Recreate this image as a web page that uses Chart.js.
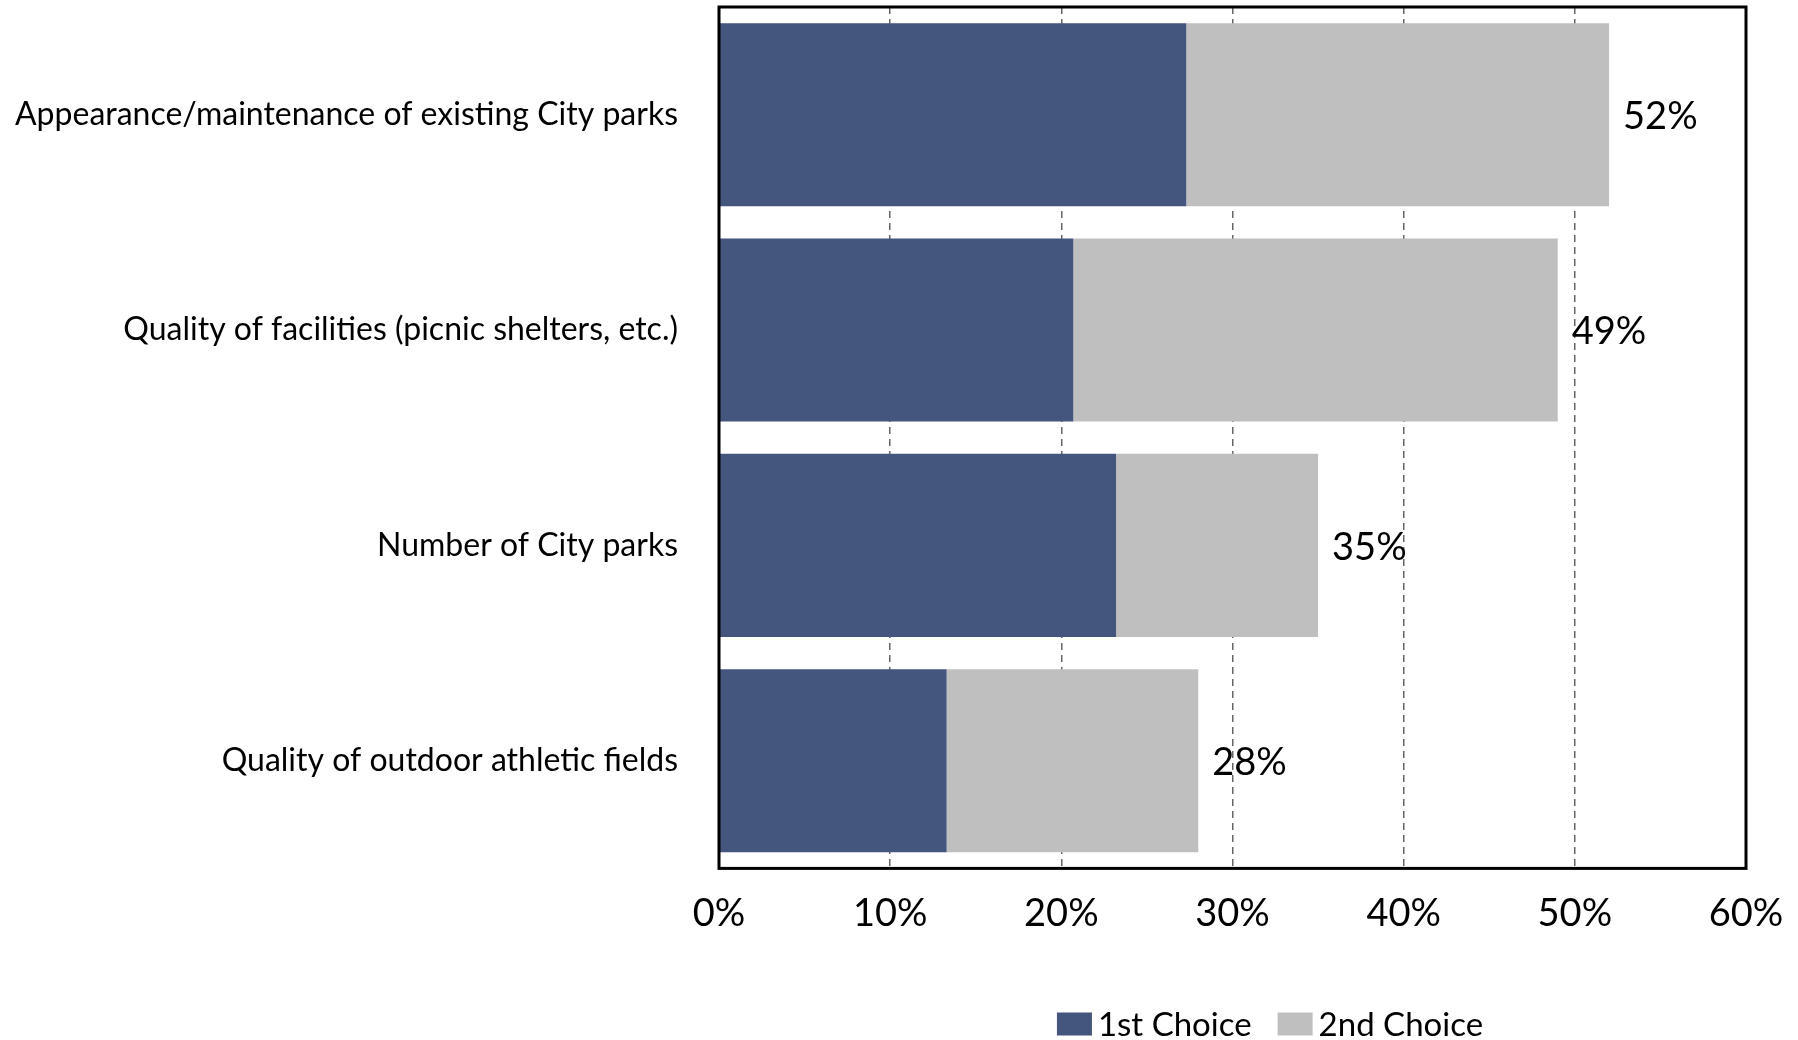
<!DOCTYPE html>
<html>
<head>
<meta charset="utf-8">
<title>Park priorities</title>
<script src="https://cdn.jsdelivr.net/npm/chart.js@4.4.1/dist/chart.umd.min.js"></script>
<style>
  html, body { margin: 0; padding: 0; background: #fff; }
  .chart-wrap { position: relative; width: 1798px; height: 1040px; }
</style>
</head>
<body>
<div class="chart-wrap"><canvas id="parksChart"></canvas></div>
<script>
// ---- Data ----
const categories = [
    'Appearance/maintenance of existing City parks',
    'Quality of facilities (picnic shelters, etc.)',
    'Number of City parks',
    'Quality of outdoor athletic fields'
];
const firstChoice = [27.3, 20.7, 23.2, 13.3];
const secondChoice = [24.7, 28.3, 11.8, 14.7];
const seriesNames = ['1st Choice', '2nd Choice'];
const xTicks = [0, 10, 20, 30, 40, 50, 60];

// ---- Styles ----
const FONT = 'Lato, "Noto Sans", sans-serif';
const BLUE = '#44557E';
const GREY = '#BFBFBF';

// ---- Black frame round the plot area ----
const plotFrame = {
    id: 'plotFrame',
    afterDatasetsDraw(chart) {
        const { ctx, chartArea: a } = chart;
        ctx.save();
        ctx.lineWidth = 3;
        ctx.strokeStyle = '#000';
        ctx.strokeRect(a.left, a.top, a.right - a.left, a.bottom - a.top);
        ctx.restore();
    }
};

// ---- Total (1st + 2nd) at the end of each bar ----
const totalLabels = {
    id: 'totalLabels',
    afterDatasetsDraw(chart, args, opts) {
        const { ctx } = chart;
        const meta = chart.getDatasetMeta(chart.data.datasets.length - 1);
        ctx.save();
        ctx.font = `${opts.size}px ${FONT}`;
        ctx.fillStyle = '#000';
        ctx.textAlign = 'left';
        ctx.textBaseline = 'middle';
        meta.data.forEach((bar, i) => {
            const total = firstChoice[i] + secondChoice[i];
            ctx.fillText(Math.round(total) + '%', bar.x + opts.offset, bar.y + 2);
        });
        ctx.restore();
    }
};

// ---- Legend under the chart ----
const choiceLegend = {
    id: 'choiceLegend',
    afterDraw(chart, args, opts) {
        const { ctx } = chart;
        ctx.save();
        ctx.font = `${opts.size}px ${FONT}`;
        ctx.textBaseline = 'middle';
        ctx.textAlign = 'left';
        const items = chart.data.datasets.map(ds => ({
            text: ds.label,
            color: ds.backgroundColor,
            w: ctx.measureText(ds.label).width
        }));
        const total = items.reduce((s, it) => s + opts.boxWidth + opts.boxGap + it.w, 0)
            + opts.itemGap * (items.length - 1);
        let x = opts.centerX - total / 2;
        items.forEach(it => {
            ctx.fillStyle = it.color;
            ctx.fillRect(x, opts.y - opts.boxHeight / 2, opts.boxWidth, opts.boxHeight);
            x += opts.boxWidth + opts.boxGap;
            ctx.fillStyle = '#000';
            ctx.fillText(it.text, x, opts.y + 1);
            x += it.w + opts.itemGap;
        });
        ctx.restore();
    }
};

new Chart(document.getElementById('parksChart'), {
    type: 'bar',
    data: {
        labels: categories,
        datasets: [
            { label: seriesNames[0], data: firstChoice, backgroundColor: BLUE },
            { label: seriesNames[1], data: secondChoice, backgroundColor: GREY }
        ]
    },
    options: {
        indexAxis: 'y',
        responsive: true,
        maintainAspectRatio: false,
        animation: false,
        layout: {
            padding: { top: 7, right: 52, bottom: 80, left: 0 }
        },
        datasets: {
            bar: {
                barPercentage: 0.85,
                categoryPercentage: 1,
                borderWidth: 0
            }
        },
        plugins: {
            legend: { display: false },
            tooltip: { enabled: false },
            totalLabels: { size: 38, offset: 14 },
            choiceLegend: {
                size: 33, centerX: 1270, y: 1024,
                boxWidth: 35, boxHeight: 23, boxGap: 6, itemGap: 26
            }
        },
        scales: {
            x: {
                stacked: true,
                min: 0,
                max: 60,
                afterBuildTicks: scale => {
                    scale.ticks = xTicks.map(v => ({ value: v }));
                },
                afterFit: scale => {
                    scale.paddingLeft = 0;
                    scale.paddingRight = 0;
                },
                ticks: {
                    color: '#000',
                    padding: 23,
                    maxRotation: 0,
                    font: { family: FONT, size: 38 },
                    callback: value => value + '%'
                },
                grid: {
                    drawTicks: false,
                    lineWidth: 1.5,
                    color: ctx => (ctx.tick && (ctx.tick.value === 0 || ctx.tick.value === 60))
                        ? 'rgba(0,0,0,0)' : '#666666'
                },
                border: { display: false, dash: [7, 5] }
            },
            y: {
                stacked: true,
                afterFit: scale => {
                    scale.width = 719;
                    scale.paddingTop = 0;
                    scale.paddingBottom = 0;
                },
                ticks: {
                    color: '#000',
                    padding: 41,
                    font: { family: FONT, size: 32 }
                },
                grid: { display: false, drawTicks: false },
                border: { display: false }
            }
        }
    },
    plugins: [plotFrame, totalLabels, choiceLegend]
});
</script>
</body>
</html>
